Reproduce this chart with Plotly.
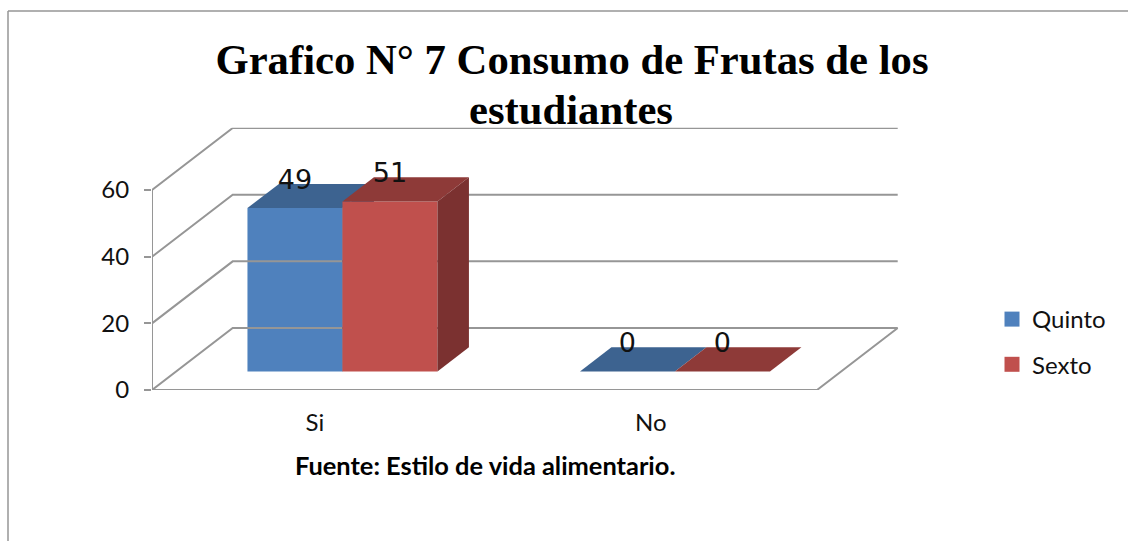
import plotly.graph_objects as go

categories = ["Si", "No"]
quinto = [49, 0]
sexto = [51, 0]
y_ticks = [0, 20, 40, 60]

WIDTH = 1128
HEIGHT = 541

# fake 3D: every point is pushed up and right according to its depth (0 = front, 1 = back wall)
DEPTH_X = 0.2427
DEPTH_Y = 18.6
BAR_W = 0.2857
BAR_FRONT = 0.30
BAR_BACK = 0.69
CENTERS = [0.5, 1.5]
LABEL_POS = [0.49, 1.5]
X_RANGE = [0, 2.2457]
Y_RANGE = [0, 78.7]
GRID = "#969696"


def project(x, y, depth):
    return x + depth * DEPTH_X, y + depth * DEPTH_Y


def polygon(points, color, xaxis="x", yaxis="y"):
    xy = [project(*p) for p in points]
    return go.Scatter(
        x=[p[0] for p in xy] + [xy[0][0]],
        y=[p[1] for p in xy] + [xy[0][1]],
        mode="lines",
        line=dict(width=0),
        fill="toself",
        fillcolor=color,
        xaxis=xaxis,
        yaxis=yaxis,
        showlegend=False,
        hoverinfo="skip",
    )


def add_series(fig, values, name, left_offset, front, top, side, xaxis, yaxis):
    base = BAR_FRONT * DEPTH_Y
    bar_x = [c + BAR_FRONT * DEPTH_X for c in CENTERS]
    fig.add_trace(
        go.Bar(
            x=bar_x,
            y=values,
            base=base,
            width=BAR_W,
            offset=left_offset,
            marker=dict(color=front, line=dict(width=0)),
            xaxis=xaxis,
            yaxis=yaxis,
            showlegend=False,
            hoverinfo="skip",
        )
    )
    for c, v in zip(CENTERS, values):
        x0 = c + left_offset
        x1 = x0 + BAR_W
        fig.add_trace(
            polygon(
                [(x0, v, BAR_FRONT), (x1, v, BAR_FRONT), (x1, v, BAR_BACK), (x0, v, BAR_BACK)],
                top, xaxis, yaxis,
            )
        )
        if v > 0:
            fig.add_trace(
                polygon(
                    [(x1, 0, BAR_FRONT), (x1, v, BAR_FRONT), (x1, v, BAR_BACK), (x1, 0, BAR_BACK)],
                    side, xaxis, yaxis,
                )
            )
    # value labels sit above the front edge of the bar
    fig.add_trace(
        go.Scatter(
            x=[x + left_offset + BAR_W / 2 for x in bar_x],
            y=[v + base + 7.8 for v in values],
            mode="text",
            text=[str(v) for v in values],
            textposition="middle center",
            textfont=dict(family="DejaVu Sans", size=27, color="#111111"),
            xaxis=xaxis,
            yaxis=yaxis,
            showlegend=False,
            hoverinfo="skip",
        )
    )
    # legend swatch only
    fig.add_trace(
        go.Scatter(
            x=[None],
            y=[None],
            mode="markers",
            name=name,
            legendgroup=name,
            marker=dict(symbol="square", size=15, color=front),
        )
    )


fig = go.Figure()

# walls and floor
wall_x = []
wall_y = []
for t in y_ticks:
    for p in [(X_RANGE[0], t, 0), (X_RANGE[0], t, 1), (2, t, 1)]:
        px, py = project(*p)
        wall_x.append(px)
        wall_y.append(py)
    wall_x.append(None)
    wall_y.append(None)
for p in [(0, y_ticks[-1], 0), (0, 0, 0), (2, 0, 0), (2, 0, 1)]:
    px, py = project(*p)
    wall_x.append(px)
    wall_y.append(py)
fig.add_trace(
    go.Scatter(
        x=wall_x,
        y=wall_y,
        mode="lines",
        line=dict(color=GRID, width=2),
        showlegend=False,
        hoverinfo="skip",
    )
)

# Sexto goes on an overlaid subplot because its front has to cover the top of Quinto
add_series(fig, quinto, "Quinto", -BAR_W, "#4f81bd", "#3d6390", "#355682", "x", "y")
add_series(fig, sexto, "Sexto", 0, "#c0504d", "#8e3a38", "#7b3130", "x2", "y2")

x_domain = [152 / WIDTH, 898.7 / WIDTH]
y_domain = [151 / HEIGHT, 413.3 / HEIGHT]

fig.update_layout(
    width=WIDTH,
    height=HEIGHT,
    margin=dict(l=0, r=0, t=0, b=0),
    autosize=False,
    paper_bgcolor="white",
    plot_bgcolor="rgba(0,0,0,0)",
    font=dict(family="Lato", size=24, color="#111111"),
    title=dict(
        text="Grafico N° 7 Consumo de Frutas de los",
        x=572 / WIDTH,
        xanchor="center",
        y=1 - 59 / HEIGHT,
        yanchor="middle",
        font=dict(family="Liberation Serif", size=42.7, color="black", weight="bold"),
    ),
    xaxis=dict(
        domain=x_domain,
        range=X_RANGE,
        tickmode="array",
        tickvals=LABEL_POS,
        ticktext=categories,
        ticks="",
        showgrid=False,
        zeroline=False,
        showline=False,
        automargin=False,
        ticklabelstandoff=16,
    ),
    yaxis=dict(
        domain=y_domain,
        range=Y_RANGE,
        tickmode="array",
        tickvals=y_ticks,
        ticks="outside",
        ticklen=7,
        tickwidth=2,
        tickcolor=GRID,
        showgrid=False,
        zeroline=False,
        showline=False,
        automargin=False,
        ticklabelstandoff=10,
    ),
    xaxis2=dict(domain=x_domain, range=X_RANGE, overlaying="x", anchor="y2", visible=False, automargin=False),
    yaxis2=dict(domain=y_domain, range=Y_RANGE, overlaying="y", anchor="x2", visible=False, automargin=False),
    legend=dict(
        x=992 / WIDTH,
        y=1 - 297 / HEIGHT,
        xanchor="left",
        yanchor="top",
        tracegroupgap=11,
        bgcolor="rgba(0,0,0,0)",
    ),
    annotations=[
        dict(
            text="estudiantes",
            xref="paper",
            yref="paper",
            x=571 / WIDTH,
            y=1 - 109 / HEIGHT,
            xanchor="center",
            yanchor="middle",
            showarrow=False,
            font=dict(family="Liberation Serif", size=42.7, color="black", weight="bold"),
        ),
        dict(
            text="Fuente: Estilo de vida alimentario.",
            xref="paper",
            yref="paper",
            x=485 / WIDTH,
            y=1 - 465 / HEIGHT,
            xanchor="center",
            yanchor="middle",
            showarrow=False,
            font=dict(family="Lato", size=25.4, color="black", weight="bold"),
        ),
    ],
    shapes=[
        dict(
            type="line", xref="paper", yref="paper",
            x0=8 / WIDTH, x1=1, y0=1 - 11 / HEIGHT, y1=1 - 11 / HEIGHT,
            line=dict(color=GRID, width=1.5),
        ),
        dict(
            type="line", xref="paper", yref="paper",
            x0=8 / WIDTH, x1=8 / WIDTH, y0=0, y1=1 - 11 / HEIGHT,
            line=dict(color=GRID, width=1.5),
        ),
    ],
)

fig.write_html(
    "out.html",
    config=dict(displayModeBar=False),
    post_script="document.body.style.margin='0';",
)
